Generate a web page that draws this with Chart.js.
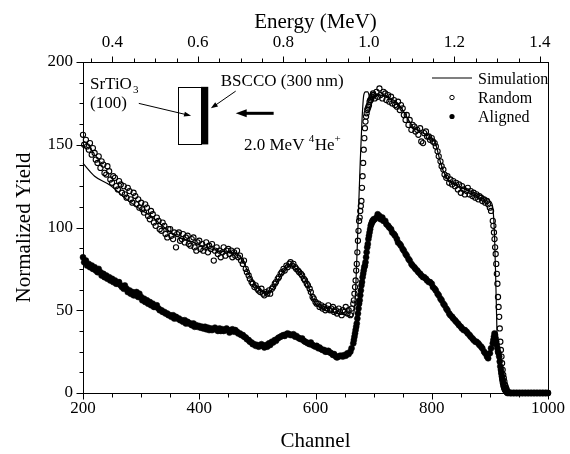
<!DOCTYPE html>
<html><head><meta charset="utf-8">
<script src="https://cdn.jsdelivr.net/npm/chart.js@4"></script>
<style>html,body{margin:0;padding:0;background:#fff}</style>
</head><body>
<canvas id="c" width="570" height="454"></canvas>
<script>
// ---------- DATA ----------
const channels = [
 200,202,205,207,210,212,215,217,220,222,
 225,227,230,232,235,237,240,242,245,247,
 250,252,255,257,260,262,265,267,270,272,
 275,277,280,282,285,287,290,292,295,297,
 300,302,305,307,310,312,315,317,320,322,
 325,327,330,332,335,337,340,342,345,347,
 350,352,355,357,360,362,365,367,370,372,
 375,377,380,382,385,387,390,392,395,397,
 400,402,405,407,410,412,415,417,420,422,
 425,427,430,432,435,437,440,442,445,447,
 450,452,455,457,460,462,465,467,470,472,
 475,477,480,482,485,487,490,492,495,497,
 500,502,505,507,510,512,515,517,520,522,
 525,527,530,532,535,537,540,542,545,547,
 550,552,555,557,560,562,565,567,570,572,
 575,577,580,582,585,587,590,592,595,597,
 600,602,605,607,610,612,615,617,620,622,
 625,627,630,632,635,637,640,642,645,647,
 650,652,655,657,660,662,665,
 666,667,668,669,670,671,672,673,674,675,676,677,678,679,680,681,682,683,
 684,685,686,687,688,689,690,691,692,693,694,695,696,697,698,699,700,
 702,
 705,707,710,712,715,717,720,722,725,727,
 730,732,735,737,740,742,745,747,750,752,
 755,757,760,762,765,767,770,772,775,777,
 780,782,785,787,790,792,795,797,800,802,
 805,807,810,812,815,817,820,822,825,827,
 830,832,835,837,840,842,845,847,850,852,
 855,857,860,862,865,867,870,872,875,877,
 880,882,885,887,890,892,895,897,900,902,
 905,
 906,907,908,909,910,911,912,913,914,915,916,917,918,919,920,921,922,923,
 924,925,926,927,928,929,930,
 932,935,937,940,942,945,947,950,952,955,957,960,962,965,967,970,972,975,977,
 980,982,985,987,990,992,995,997,1000
];
const randomYield = [
 156,150,153,149,147,151,144,148,145,141,
 139,143,136,140,138,133,132,137,134,129,
 127,131,130,125,123,128,126,121,125,120,
 118,124,122,117,115,121,119,114,117,112,
 115,111,109,114,112,107,105,110,108,103,
 101,106,104,99,98,103,101,96,94,99,
 99,95,93,97,88,96,97,92,93,96,
 91,94,95,90,89,93,94,88,86,91,
 92,87,90,86,88,91,85,89,87,90,
 80,86,88,84,86,82,85,88,83,86,
 87,84,86,82,85,83,86,82,83,80,
 78,80,75,73,71,69,67,66,64,65,
 63,62,61,63,60,59,61,60,62,60,
 63,64,66,67,69,70,72,73,75,74,
 77,76,78,79,77,78,76,75,74,73,
 72,71,69,68,66,65,63,61,58,57,
 55,54,54,52,53,51,52,50,51,53,
 50,51,52,49,50,48,51,49,47,50,
 49,52,48,50,47,51,54,
 56,60,64,68,74,78,85,92,98,104,106,110,113,116,124,131,139,147,
 154,160,164,167,169,171,172,173,174,176,177,177,178,179,180,181,180,
 178,
 182,179,184,180,178,182,181,177,180,176,
 179,175,177,174,173,176,171,174,172,168,
 165,168,162,165,159,162,161,158,159,156,
 160,152,151,157,158,155,155,153,154,152,
 151,149,146,143,140,137,135,132,130,131,
 127,129,126,128,125,127,123,126,121,125,
 123,120,122,124,120,122,119,121,118,120,
 117,119,118,116,117,115,116,114,112,110,
 104,
 101,97,93,88,84,78,72,66,58,52,46,39,31,26,22,18,14,11,
 9,7,5,4,3,2,1,
 0.5,0,0,0,0,0,0,0,0,0,0,0,0,0,0,0,0,0,0,
 0,0,0,0,0,0,0,0,0
];
const alignedYield = [
 82,79,80,77,78,76,77,75,76,74,
 73,75,73,71,72,70,71,69,70,68,
 69,67,68,66,66,67,65,64,63,65,
 63,61,62,60,61,59,59,61,58,60,
 58,56,57,55,56,54,55,53,54,52,
 52,53,51,50,50,49,49,48,48,47,
 47,46,47,45,46,45,45,44,44,43,
 44,42,43,42,42,41,42,40,41,40,
 40.5,39.5,40,39,40,38.5,39.5,38,39,38,
 38.5,39.5,38.5,37.5,39,37.5,38.5,37.5,38,39,
 38,36.5,37.5,38.5,37,38,37,36,36,35,
 35,34,33.5,32.5,32,31,30.5,29.5,29.5,28.5,
 29,28,28.5,29.5,28.5,27.5,29,28,30,29,
 31,30.5,32,31.5,33,33.5,34,34.5,35,34.5,
 35.5,36,35.5,35,35,35.5,34,34.5,33.5,33,
 32.5,33,31.5,31,30.5,30,29.5,30.5,29,28.5,
 28,28.5,27,27.5,26.5,26,26,25,25,25.5,
 24.5,24,23,23.5,22,21.5,22,22.5,22.5,22,
 23,22.5,24,23.5,25,27,30,
 32,34,36,38,40,42,45,48,51,54,56,59,62,65,67,70,72,74,
 76,77,79,82,85,88,90,93,95,97,99,101,102,103,104,104,105,
 105,
 106,108,107,105,106,104,104,102,101,100,
 99,97,96,95,93,91,90,89,87,86,
 84,83,81,80,78,77,76,75,74,73,
 72,71,70,70,69,68,67,67,66,64,
 63,62,60,59,57,56,54,53,51,50,
 48,47,46,45,44,43,42,41,40,39,
 38,38,37,36,35,34,33,32,31,31,
 30,29,28,27,25,24,22,21,24,27,
 30,
 32,34,36,35,33,31,29,27,25,24,22,19,16,14,12,10,8,6,
 4,3,2,1.5,1,0.5,0,
 0,0,0,0,0,0,0,0,0,0,0,0,0,0,0,0,0,0,0,
 0,0,0,0,0,0,0,0,0
];
const simChannels = [
 200,220,246,275,303,320,340,360,390,420,450,465,475,485,495,505,515,525,535,545,
 555,565,575,585,592,600,610,625,640,655,662,665,668,671,674,677,680,683,686,690,
 694,700,710,720,730,740,750,760,770,780,790,800,807,813,820,828,840,860,880,900,
 905,908,910,912,914,917,921,926,1000
];
const simYield = [
 138.8,131,125.7,117,110,106,100,95,91,87,85,84,80,72,66,62,60.5,62.5,68,74,
 77,75.5,72,67,60,54,51,49,48,47,46,47,55,80,110,140,165,180,182,182,
 178,179,180,179.5,178,175.5,171,165,160,158,156,154,150,142,134,129,126,123,120,116,
 112,95,70,40,20,8,2,0,0
];
const seriesNames = ['Simulation', 'Random', 'Aligned'];
const channelTicks = [200, 400, 600, 800, 1000];
const yieldTicks = [0, 50, 100, 150, 200];
const energyTicks = [0.4, 0.6, 0.8, 1.0, 1.2, 1.4];
const energyAtChannel200 = 0.331;
const energyAtChannel1000 = 1.419;

// ---------- DRAWING ----------
const SERIF = "'Liberation Serif','Times New Roman',serif";

const decor = {
  id: 'decor',
  afterDraw(chart) {
    const {ctx, chartArea: a, scales} = chart;
    const X = scales.x, Y = scales.y, E = scales.x2;
    ctx.save();
    ctx.strokeStyle = '#000';
    ctx.fillStyle = '#000';
    ctx.lineWidth = 1;
    const L = Math.round(a.left) + 0.5, T = Math.round(a.top) + 0.5;
    const R = Math.round(a.right) + 0.5, B = Math.round(a.bottom) + 0.5;
    ctx.strokeRect(L, T, R - L, B - T);
    const seg = (x1, y1, x2, y2) => { ctx.beginPath(); ctx.moveTo(x1, y1); ctx.lineTo(x2, y2); ctx.stroke(); };
    for (let v = X.min; v <= X.max + 0.01; v += 50) {
      const px = Math.round(X.getPixelForValue(v)) + 0.5;
      seg(px, B, px, B + (v % 200 === 0 ? 6 : 4));
    }
    for (let v = Y.min; v <= Y.max + 0.01; v += 12.5) {
      const py = Math.round(Y.getPixelForValue(v)) + 0.5;
      seg(L, py, L - (v % 50 === 0 ? 7 : 4), py);
    }
    for (let k = 0; k <= 40; k++) {
      const v = k * 0.05;
      if (v < E.min || v > E.max) continue;
      const px = Math.round(E.getPixelForValue(v)) + 0.5;
      seg(px, T, px, T - (k % 4 === 0 ? 6 : 4));
    }

    // ---- inset sketch ----
    const px = c => X.getPixelForValue(c), py = y => Y.getPixelForValue(y);
    ctx.lineWidth = 1;
    ctx.fillStyle = '#fff';
    ctx.fillRect(px(363), py(185), px(403) - px(363), py(150.8) - py(185));
    ctx.strokeRect(Math.round(px(363)) + 0.5, Math.round(py(185)) + 0.5, Math.round(px(403) - px(363)), Math.round(py(150.8) - py(185)));
    ctx.fillStyle = '#000';
    ctx.fillRect(px(403), py(185), px(415.5) - px(403), py(150.2) - py(185));

    const arrow = (x1, y1, x2, y2, w, hl, hw) => {
      const dx = x2 - x1, dy = y2 - y1, len = Math.hypot(dx, dy);
      const ux = dx / len, uy = dy / len;
      ctx.lineWidth = w;
      seg(x1, y1, x2 - ux * hl * 0.8, y2 - uy * hl * 0.8);
      ctx.beginPath();
      ctx.moveTo(x2, y2);
      ctx.lineTo(x2 - ux * hl - uy * hw, y2 - uy * hl + ux * hw);
      ctx.lineTo(x2 - ux * hl + uy * hw, y2 - uy * hl - ux * hw);
      ctx.closePath();
      ctx.fill();
    };
    ctx.fillStyle = '#000';
    arrow(px(296), py(175), px(386), py(167.5), 1, 7, 2.5);
    arrow(px(462.7), py(182.4), px(420), py(172), 1, 7, 2.5);
    arrow(px(528), py(169), px(462.7), py(169), 3, 11, 4);

    // ---- texts ----
    ctx.textBaseline = 'alphabetic';
    ctx.textAlign = 'left';
    ctx.font = '17px ' + SERIF;
    const x0 = px(212);
    ctx.fillText('SrTiO', x0, 89);
    let w = ctx.measureText('SrTiO').width;
    ctx.font = '11px ' + SERIF;
    ctx.fillText('3', x0 + w + 1, 93);
    ctx.font = '17px ' + SERIF;
    ctx.fillText('(100)', x0, 108);
    ctx.fillText('BSCCO (300 nm)', px(437), 86);
    let tx = px(477);
    const ty = 150;
    ctx.fillText('2.0 MeV ', tx, ty);
    tx += ctx.measureText('2.0 MeV ').width;
    ctx.font = '11px ' + SERIF;
    ctx.fillText('4', tx, ty - 8);
    tx += ctx.measureText('4').width + 0.5;
    ctx.font = '17px ' + SERIF;
    ctx.fillText('He', tx, ty);
    tx += ctx.measureText('He').width;
    ctx.font = '11px ' + SERIF;
    ctx.fillText('+', tx, ty - 8);

    // ---- legend ----
    const ds = chart.data.datasets;
    ctx.font = '16px ' + SERIF;
    const lx = 432, textX = 478;
    ctx.strokeStyle = ds[0].borderColor; ctx.lineWidth = ds[0].borderWidth;
    seg(lx, 78, lx + 40, 78);
    ctx.fillStyle = '#000';
    ctx.fillText(ds[0].label, textX, 84);
    ctx.lineWidth = 1; ctx.strokeStyle = '#000';
    ctx.beginPath(); ctx.arc(lx + 20, 97.5, 2.2, 0, Math.PI * 2); ctx.stroke();
    ctx.fillText(ds[1].label, textX, 103);
    ctx.beginPath(); ctx.arc(lx + 20, 116.5, 2.6, 0, Math.PI * 2); ctx.fill();
    ctx.fillText(ds[2].label, textX, 122);
    ctx.restore();
  }
};

const mk = (xs, ys) => xs.map((c, i) => ({x: c, y: ys[i]}));

new Chart(document.getElementById('c'), {
  type: 'scatter',
  data: {
    datasets: [
      { label: seriesNames[0], data: mk(simChannels, simYield), showLine: true, pointRadius: 0,
        borderColor: '#000', borderWidth: 1.2, cubicInterpolationMode: 'monotone', order: 0, clip: false },
      { label: seriesNames[1], data: mk(channels, randomYield), showLine: false, pointStyle: 'circle',
        pointRadius: 2.6, pointBorderWidth: 1.1, pointBorderColor: '#000', pointBackgroundColor: 'rgba(0,0,0,0)', order: 1, clip: false },
      { label: seriesNames[2], data: mk(channels, alignedYield), showLine: false, pointStyle: 'circle',
        pointRadius: 3, pointBorderWidth: 0.5, pointBorderColor: '#000', pointBackgroundColor: '#000', order: 2, clip: false }
    ]
  },
  options: {
    responsive: false,
    devicePixelRatio: 1,
    animation: false,
    events: [],
    layout: { padding: { left: 0, right: 19, top: 0, bottom: 0 } },
    plugins: { legend: { display: false }, tooltip: { enabled: false } },
    scales: {
      x: {
        type: 'linear', position: 'bottom', min: 200, max: 1000,
        grid: { display: false, drawTicks: false }, border: { display: false },
        afterBuildTicks: s => { s.ticks = channelTicks.map(v => ({value: v})); },
        afterFit: s => { s.height = 61; },
        ticks: { color: '#000', padding: 5, maxRotation: 0, font: { family: SERIF, size: 17 }, callback: v => String(v) },
        title: { display: true, text: 'Channel', color: '#000', padding: { top: 0, bottom: 0 }, font: { family: SERIF, size: 21 } }
      },
      x2: {
        type: 'linear', position: 'top', min: energyAtChannel200, max: energyAtChannel1000,
        grid: { display: false, drawTicks: false }, border: { display: false },
        afterBuildTicks: s => { s.ticks = energyTicks.map(v => ({value: v})); },
        afterFit: s => { s.height = 62; },
        ticks: { color: '#000', padding: 9, maxRotation: 0, font: { family: SERIF, size: 17 }, callback: v => Number(v).toFixed(1) },
        title: { display: true, text: 'Energy (MeV)', color: '#000', padding: { top: 10, bottom: 0 }, font: { family: SERIF, size: 21 } }
      },
      y: {
        type: 'linear', position: 'left', min: 0, max: 200,
        grid: { display: false, drawTicks: false }, border: { display: false },
        afterBuildTicks: s => { s.ticks = yieldTicks.map(v => ({value: v})); },
        afterFit: s => { s.width = 83; },
        ticks: { color: '#000', padding: 10, font: { family: SERIF, size: 17 }, callback: v => String(v) },
        title: { display: true, text: 'Normalized Yield', color: '#000', padding: { top: 12, bottom: 0 }, font: { family: SERIF, size: 21 } }
      }
    }
  },
  plugins: [decor]
});
</script>
</body></html>
